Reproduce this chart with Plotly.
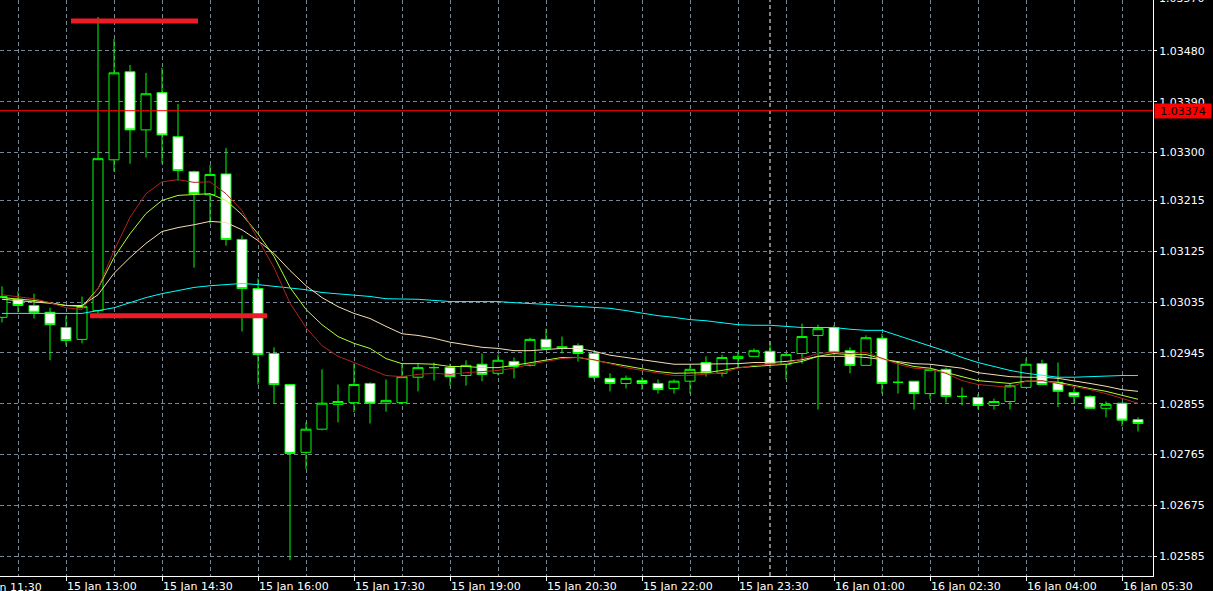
import pandas as pd
import plotly.graph_objects as go

# ---- data (EURUSD M15, 15 Jan 12:00 -> 16 Jan 05:45) ----
start_time = "2025-01-15 12:00"
n_bars = 72
times = pd.date_range(start_time, periods=n_bars, freq="15min")

open_ = [1.03008, 1.03040, 1.03029, 1.03017, 1.02990, 1.02969, 1.03020, 1.03287, 1.03443, 1.03340,
         1.03406, 1.03328, 1.03266, 1.03225, 1.03262, 1.03146, 1.03059, 1.02944, 1.02889, 1.02769,
         1.02810, 1.02854, 1.02857, 1.02891, 1.02856, 1.02857, 1.02902, 1.02919, 1.02919, 1.02905,
         1.02925, 1.02909, 1.02930, 1.02923, 1.02969, 1.02953, 1.02958, 1.02944, 1.02900, 1.02891,
         1.02896, 1.02891, 1.02882, 1.02895, 1.02928, 1.02909, 1.02935, 1.02939, 1.02948, 1.02925,
         1.02944, 1.02976, 1.02990, 1.02949, 1.02923, 1.02971, 1.02893, 1.02895, 1.02873, 1.02916,
         1.02868, 1.02866, 1.02852, 1.02859, 1.02884, 1.02926, 1.02893, 1.02875, 1.02868, 1.02847,
         1.02856, 1.02827]
high = [1.03063, 1.03054, 1.03050, 1.03025, 1.03010, 1.03045, 1.03540, 1.03501, 1.03455, 1.03441,
        1.03450, 1.03386, 1.03268, 1.03278, 1.03308, 1.03153, 1.03077, 1.02955, 1.02889, 1.02822,
        1.02916, 1.02889, 1.02926, 1.02893, 1.02898, 1.02925, 1.02926, 1.02928, 1.02926, 1.02932,
        1.02944, 1.02942, 1.02937, 1.02972, 1.02988, 1.02974, 1.02962, 1.02948, 1.02909, 1.02905,
        1.02902, 1.02898, 1.02898, 1.02923, 1.02939, 1.02942, 1.02946, 1.02953, 1.02962, 1.02944,
        1.02997, 1.02995, 1.02994, 1.02955, 1.02976, 1.02979, 1.02928, 1.02895, 1.02916, 1.02919,
        1.02884, 1.02872, 1.02864, 1.02891, 1.02935, 1.02933, 1.02928, 1.02882, 1.02870, 1.02859,
        1.02856, 1.02831]
low = [1.02999, 1.03017, 1.03006, 1.02932, 1.02958, 1.02962, 1.03015, 1.03266, 1.03280, 1.03291,
       1.03280, 1.03250, 1.03096, 1.03174, 1.03135, 1.02983, 1.02889, 1.02856, 1.02578, 1.02739,
       1.02808, 1.02822, 1.02840, 1.02820, 1.02841, 1.02854, 1.02877, 1.02896, 1.02887, 1.02887,
       1.02895, 1.02905, 1.02900, 1.02921, 1.02953, 1.02944, 1.02930, 1.02898, 1.02877, 1.02882,
       1.02880, 1.02873, 1.02873, 1.02873, 1.02903, 1.02903, 1.02919, 1.02939, 1.02918, 1.02898,
       1.02926, 1.02845, 1.02941, 1.02909, 1.02923, 1.02873, 1.02873, 1.02845, 1.02863, 1.02857,
       1.02852, 1.02845, 1.02845, 1.02845, 1.02884, 1.02889, 1.02849, 1.02856, 1.02847, 1.02831,
       1.02815, 1.02806]
close = [1.03045, 1.03029, 1.03017, 1.02995, 1.02967, 1.03027, 1.03289, 1.03441, 1.03340, 1.03404,
         1.03331, 1.03268, 1.03227, 1.03261, 1.03146, 1.03059, 1.02942, 1.02889, 1.02767, 1.02810,
         1.02856, 1.02859, 1.02889, 1.02856, 1.02861, 1.02903, 1.02919, 1.02919, 1.02903, 1.02923,
         1.02907, 1.02932, 1.02921, 1.02969, 1.02953, 1.02956, 1.02944, 1.02902, 1.02891, 1.02900,
         1.02891, 1.02880, 1.02895, 1.02916, 1.02910, 1.02937, 1.02939, 1.02949, 1.02926, 1.02942,
         1.02974, 1.02988, 1.02946, 1.02923, 1.02972, 1.02891, 1.02893, 1.02873, 1.02916, 1.02868,
         1.02868, 1.02852, 1.02859, 1.02887, 1.02925, 1.02889, 1.02877, 1.02868, 1.02847, 1.02854,
         1.02826, 1.02820]

ma_red = [1.03048, 1.03045, 1.03041, 1.03034, 1.03025, 1.03022, 1.03059, 1.03126, 1.03185, 1.03227,
          1.03248, 1.03252, 1.03247, 1.03248, 1.03227, 1.03197, 1.03146, 1.03096, 1.03033, 1.02990,
          1.02958, 1.02939, 1.02928, 1.02916, 1.02905, 1.02903, 1.02907, 1.02909, 1.02907, 1.02910,
          1.02912, 1.02914, 1.02918, 1.02925, 1.02930, 1.02935, 1.02937, 1.02933, 1.02926, 1.02919,
          1.02914, 1.02909, 1.02905, 1.02905, 1.02907, 1.02910, 1.02918, 1.02923, 1.02925, 1.02926,
          1.02935, 1.02944, 1.02946, 1.02944, 1.02946, 1.02935, 1.02925, 1.02918, 1.02916, 1.02909,
          1.02896, 1.02889, 1.02886, 1.02884, 1.02895, 1.02896, 1.02891, 1.02886, 1.02880, 1.02873,
          1.02864, 1.02856]
ma_yellow = [1.03043, 1.03041, 1.03038, 1.03034, 1.03029, 1.03027, 1.03059, 1.03114, 1.03156, 1.03192,
             1.03215, 1.03224, 1.03225, 1.03227, 1.03215, 1.03190, 1.03156, 1.03116, 1.03061, 1.03022,
             1.02995, 1.02974, 1.02962, 1.02953, 1.02935, 1.02926, 1.02926, 1.02925, 1.02921, 1.02921,
             1.02919, 1.02919, 1.02923, 1.02928, 1.02933, 1.02937, 1.02937, 1.02932, 1.02926, 1.02921,
             1.02916, 1.02912, 1.02909, 1.02909, 1.02910, 1.02914, 1.02919, 1.02921, 1.02923, 1.02925,
             1.02930, 1.02939, 1.02944, 1.02942, 1.02942, 1.02935, 1.02928, 1.02921, 1.02918, 1.02910,
             1.02903, 1.02896, 1.02893, 1.02891, 1.02895, 1.02895, 1.02893, 1.02887, 1.02882, 1.02877,
             1.02870, 1.02863]
ma_wheat = [1.03040, 1.03038, 1.03036, 1.03033, 1.03029, 1.03029, 1.03048, 1.03086, 1.03114, 1.03139,
            1.03160, 1.03167, 1.03172, 1.03178, 1.03176, 1.03163, 1.03144, 1.03121, 1.03091, 1.03064,
            1.03043, 1.03027, 1.03015, 1.03006, 1.02992, 1.02979, 1.02976, 1.02971, 1.02964, 1.02960,
            1.02955, 1.02953, 1.02949, 1.02949, 1.02951, 1.02953, 1.02953, 1.02948, 1.02941, 1.02937,
            1.02932, 1.02928, 1.02925, 1.02925, 1.02925, 1.02925, 1.02926, 1.02928, 1.02928, 1.02930,
            1.02933, 1.02939, 1.02939, 1.02939, 1.02937, 1.02933, 1.02930, 1.02926, 1.02925, 1.02921,
            1.02918, 1.02910, 1.02907, 1.02903, 1.02902, 1.02902, 1.02900, 1.02896, 1.02891, 1.02886,
            1.02880, 1.02877]
ma_cyan = [1.03015, 1.03015, 1.03015, 1.03015, 1.03015, 1.03015, 1.03020, 1.03025, 1.03034, 1.03043,
           1.03050, 1.03056, 1.03061, 1.03064, 1.03066, 1.03068, 1.03066, 1.03063, 1.03059, 1.03057,
           1.03052, 1.03050, 1.03048, 1.03045, 1.03041, 1.03041, 1.03040, 1.03038, 1.03036, 1.03036,
           1.03036, 1.03036, 1.03034, 1.03033, 1.03031, 1.03029, 1.03027, 1.03025, 1.03024, 1.03020,
           1.03015, 1.03011, 1.03008, 1.03004, 1.03002, 1.02999, 1.02995, 1.02994, 1.02994, 1.02992,
           1.02990, 1.02990, 1.02990, 1.02987, 1.02985, 1.02985, 1.02976, 1.02967, 1.02958, 1.02948,
           1.02937, 1.02928, 1.02921, 1.02914, 1.02909, 1.02905, 1.02902, 1.02902, 1.02903, 1.02905,
           1.02905, 1.02905]

price_ticks = [1.02585, 1.02675, 1.02765, 1.02855, 1.02945, 1.03035, 1.03125, 1.03215,
               1.03300, 1.03390, 1.03480]
top_price_label = "1.03570"
hline_price = 1.03374
hline_label = "1.03374"
# user trend lines (time, price)
seg_top = (["2025-01-15 13:04:40", "2025-01-15 15:03:45"], 1.03533)
seg_bottom = (["2025-01-15 13:22:30", "2025-01-15 16:08:25"], 1.03011)
separator_time = "2025-01-16 00:00"
first_label_text = "15 Jan 11:30"

GRID = "#778899"
FONT = dict(family="DejaVu Sans", size=11, color="#FFFFFF")
PLOT_W = 1153  # plot-area width in px (1213 - right margin)

fig = go.Figure()

for vals, col in [(ma_cyan, "#00FFFF"), (ma_wheat, "#F5DEB3"),
                  (ma_yellow, "#ADFF2F"), (ma_red, "#B22222")]:
    fig.add_trace(go.Scatter(x=times, y=vals, mode="lines",
                             line=dict(color=col, width=1), hoverinfo="skip"))

fig.add_trace(go.Candlestick(
    x=times, open=open_, high=high, low=low, close=close,
    increasing=dict(line=dict(color="#00FF00", width=1), fillcolor="#000000"),
    decreasing=dict(line=dict(color="#00FF00", width=1), fillcolor="#FFFFFF"),
    whiskerwidth=0, hoverinfo="skip"))

shapes = [
    dict(type="line", xref="paper", x0=0, x1=1, yref="y", y0=hline_price, y1=hline_price,
         line=dict(color="#FF0000", width=1), layer="above"),
    dict(type="line", xref="x", x0=separator_time, x1=separator_time, yref="paper", y0=0, y1=1,
         line=dict(color="#FFFFFF", width=1, dash="4px,3px"), layer="below"),
    dict(type="line", xref="x", x0=seg_top[0][0], x1=seg_top[0][1], yref="y",
         y0=seg_top[1], y1=seg_top[1], line=dict(color="rgb(237,28,36)", width=5), layer="above"),
    dict(type="line", xref="x", x0=seg_bottom[0][0], x1=seg_bottom[0][1], yref="y",
         y0=seg_bottom[1], y1=seg_bottom[1], line=dict(color="rgb(237,28,36)", width=5), layer="above"),
]

annotations = [
    dict(xref="paper", x=1, xanchor="left", xshift=1, yref="y", y=hline_price, yanchor="middle",
         text=hline_label, showarrow=False, bgcolor="#FF0000", borderpad=1, width=54, height=12,
         font=dict(family="DejaVu Sans", size=11, color="#000000")),
    # first time label, mostly beyond the left edge (as in the original)
    dict(xref="paper", x=-30 / PLOT_W, xanchor="left", yref="paper", y=0, yanchor="top",
         yshift=-3, text=first_label_text, showarrow=False, font=FONT),
    # top price label, cut by the top edge
    dict(xref="paper", x=1, xanchor="left", xshift=4, yref="paper", y=1, yanchor="middle",
         yshift=2, text=top_price_label, showarrow=False, font=FONT),
]

fig.update_layout(
    width=1213, height=591,
    margin=dict(l=0, r=60, t=0, b=15, autoexpand=False),
    paper_bgcolor="#000000", plot_bgcolor="#000000",
    showlegend=False,
    boxgap=0.375, boxgroupgap=0,
    shapes=shapes, annotations=annotations,
    font=FONT,
)
fig.update_xaxes(
    type="date", automargin=False,
    range=["2025-01-15 11:58:07.5", "2025-01-16 05:59:03.75"],
    rangeslider=dict(visible=False),
    tick0="2025-01-15 13:00", dtick=5400000, tickformat="%d %b %H:%M",
    ticks="outside", ticklen=4, tickcolor="#FFFFFF", tickfont=FONT,
    ticklabelposition="outside right",
    showgrid=True, gridcolor=GRID, griddash="4px,3px", gridwidth=1,
    minor=dict(tick0="2025-01-15 12:15", dtick=2700000, showgrid=True,
               gridcolor=GRID, griddash="4px,3px", gridwidth=1, ticks=""),
    showline=True, linecolor="#FFFFFF", linewidth=1, zeroline=False,
)
fig.update_yaxes(
    side="right", automargin=False, range=[1.02550, 1.03570],
    tickmode="array", tickvals=price_ticks, ticktext=[f"{v:.5f}" for v in price_ticks],
    ticks="outside", ticklen=3, tickcolor="#FFFFFF", tickfont=FONT,
    showgrid=True, gridcolor=GRID, griddash="4px,3px", gridwidth=1,
    showline=True, linecolor="#FFFFFF", linewidth=1, zeroline=False,
)

fig.write_html(
    "out.html",
    config={"displayModeBar": False},
    post_script="document.body.style.margin='0';document.body.style.background='#000';"
                "document.documentElement.style.background='#000';",
)
